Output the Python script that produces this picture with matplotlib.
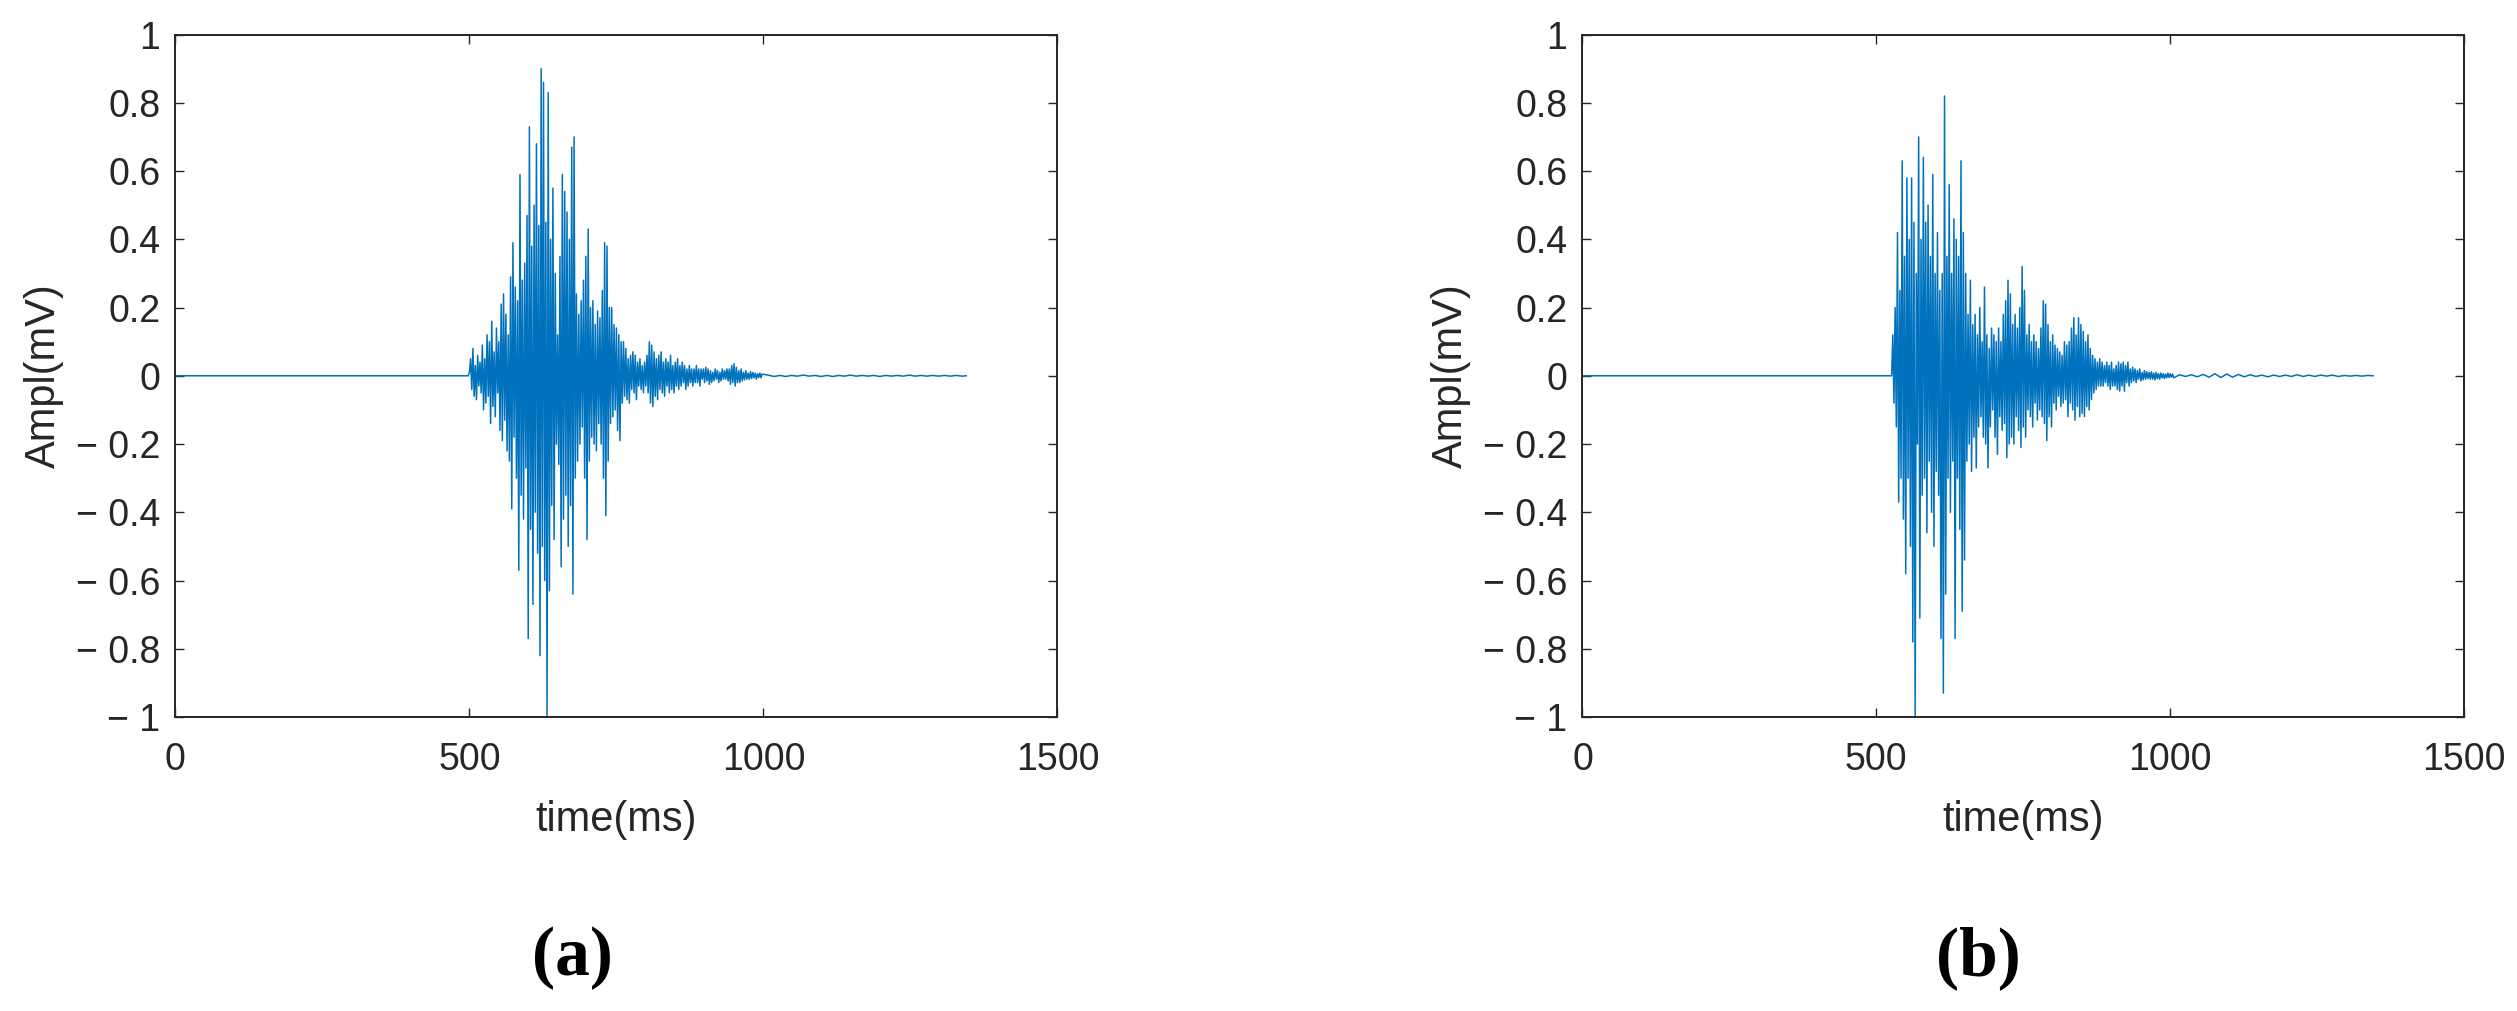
import numpy as np
import matplotlib
matplotlib.use("Agg")
import matplotlib.pyplot as plt

plt.rcParams['font.family'] = ['Liberation Sans', 'DejaVu Sans']

# sampling of the burst parts (ms)
step_ms = 2
tail_step_ms = 10
end_ms = 1345

# (a) burst starts at 500 ms, sampled every 2 ms
onset_a = 500
burst_a = [
    0.01, 0.05, -0.04, 0.08, -0.06, 0.03, -0.07, 0.06, -0.03, 0.04,
    -0.05, 0.09, -0.10, 0.05, -0.08, 0.12, -0.06, 0.10, -0.14, 0.16,
    -0.09, 0.07, -0.12, 0.14, -0.05, 0.10, -0.16, 0.21, -0.19, 0.24,
    -0.13, 0.18, -0.22, 0.12, -0.25, 0.29, -0.39, 0.39, -0.18, 0.26,
    -0.30, 0.22, -0.57, 0.59, -0.35, 0.28, -0.42, 0.33, -0.27, 0.47,
    -0.77, 0.73, -0.45, 0.38, -0.67, 0.50, -0.40, 0.68, -0.52, 0.44,
    -0.82, 0.90, -0.50, 0.86, -0.60, 0.45, -1.00, 0.83, -0.63, 0.40,
    -0.38, 0.55, -0.48, 0.30, -0.20, 0.12, -0.26, 0.35, -0.56, 0.59,
    -0.42, 0.54, -0.35, 0.48, -0.50, 0.40, -0.38, 0.67, -0.64, 0.70,
    -0.30, 0.24, -0.25, 0.18, -0.20, 0.22, -0.15, 0.28, -0.30, 0.35,
    -0.48, 0.43, -0.25, 0.20, -0.18, 0.22, -0.20, 0.15, -0.22, 0.19,
    -0.14, 0.17, -0.20, 0.25, -0.30, 0.39, -0.41, 0.38, -0.25, 0.20,
    -0.14, 0.20, -0.12, 0.15, -0.10, 0.14, -0.16, 0.12, -0.19, 0.10,
    -0.08, 0.10, -0.06, 0.08, -0.07, 0.05, -0.08, 0.06, -0.04, 0.07,
    -0.05, 0.06, -0.07, 0.04, -0.03, 0.05, -0.04, 0.03, -0.05, 0.04,
    -0.03, 0.06, -0.05, 0.10, -0.08, 0.09, -0.09, 0.07, -0.06, 0.05,
    -0.07, 0.06, -0.04, 0.07, -0.05, 0.04, -0.06, 0.05, -0.03, 0.04,
    -0.05, 0.06, -0.04, 0.03, -0.05, 0.04, -0.03, 0.05, -0.04, 0.03,
    -0.03, 0.04, -0.02, 0.03, -0.04, 0.02, -0.03, 0.03, -0.02, 0.02,
    -0.03, 0.02, -0.02, 0.03, -0.02, 0.02, -0.03, 0.02, -0.01, 0.02,
    -0.02, 0.025, -0.015, 0.02, -0.025, 0.015, -0.02, 0.01, -0.015, 0.02,
    -0.01, 0.015, -0.02, 0.01, -0.015, 0.02, -0.01, 0.015, -0.01, 0.02,
    -0.015, 0.02, -0.025, 0.03, -0.02, 0.035, -0.03, 0.025, -0.02, 0.015,
    -0.02, 0.02, -0.015, 0.01, -0.012, 0.015, -0.01, 0.008, -0.01, 0.012,
    -0.008, 0.01, -0.006, 0.008, -0.01, 0.006, -0.005, 0.008, -0.006, 0.005,
]
tail_a = [
    0.002, -0.002, 0.001, -0.002, 0.001, -0.001, 0.002, -0.001, 0.001, -0.002,
    0.001, -0.002, 0.001, -0.001, 0.002, -0.001, 0.001, -0.001, 0.001, -0.002,
    0.001, -0.001, 0.001, -0.001, 0.002, -0.001, 0.001, -0.001, 0.001, -0.001,
    0.001, -0.001, 0.001, -0.001,
]

# (b) burst starts at 528 ms, sampled every 2 ms
onset_b = 528
burst_b = [
    0.12, -0.08, 0.20, -0.15, 0.42, -0.37, 0.25, -0.30, 0.63, -0.42,
    0.35, -0.58, 0.58, -0.30, 0.40, -0.50, 0.58, -0.78, 0.45, -1.00,
    0.30, -0.20, 0.70, -0.71, 0.40, -0.35, 0.64, -0.30, 0.45, -0.46,
    0.50, -0.25, 0.35, -0.40, 0.59, -0.50, 0.30, -0.28, 0.42, -0.35,
    0.25, -0.77, 0.30, -0.93, 0.82, -0.64, 0.35, -0.30, 0.56, -0.40,
    0.30, -0.25, 0.46, -0.77, 0.40, -0.30, 0.35, -0.45, 0.63, -0.69,
    0.42, -0.54, 0.30, -0.25, 0.18, -0.20, 0.28, -0.28, 0.15, -0.18,
    0.18, -0.27, 0.12, -0.15, 0.20, -0.12, 0.10, -0.18, 0.26, -0.20,
    0.12, -0.27, 0.08, -0.15, 0.14, -0.10, 0.12, -0.18, 0.10, -0.23,
    0.14, -0.12, 0.10, -0.16, 0.18, -0.14, 0.22, -0.24, 0.28, -0.20,
    0.24, -0.18, 0.15, -0.20, 0.18, -0.12, 0.14, -0.16, 0.20, -0.21,
    0.32, -0.15, 0.25, -0.18, 0.12, -0.10, 0.15, -0.12, 0.10, -0.15,
    0.12, -0.08, 0.10, -0.13, 0.08, -0.10, 0.14, -0.12, 0.22, -0.14,
    0.21, -0.19, 0.15, -0.12, 0.10, -0.15, 0.12, -0.08, 0.09, -0.10,
    0.08, -0.06, 0.07, -0.09, 0.06, -0.08, 0.10, -0.07, 0.09, -0.12,
    0.10, -0.08, 0.14, -0.10, 0.17, -0.13, 0.12, -0.09, 0.17, -0.12,
    0.15, -0.11, 0.13, -0.12, 0.10, -0.09, 0.12, -0.10, 0.08, -0.07,
    0.06, -0.05, 0.05, -0.04, 0.04, -0.03, 0.05, -0.03, 0.04, -0.03,
    0.03, -0.02, 0.04, -0.03, 0.03, -0.04, 0.04, -0.03, 0.02, -0.03,
    0.03, -0.04, 0.04, -0.045, 0.035, -0.03, 0.04, -0.045, 0.03, -0.02,
    0.04, -0.03, 0.02, -0.02, 0.025, -0.015, 0.02, -0.02, 0.015, -0.01,
    0.02, -0.015, 0.01, -0.012, 0.015, -0.01, 0.012, -0.008, 0.01, -0.01,
    0.012, -0.01, 0.008, -0.012, 0.01, -0.008, 0.006, -0.01, 0.008, -0.006,
    0.006, -0.008, 0.005, -0.006, 0.008, -0.005, 0.006, -0.004, 0.005, -0.006,
]
tail_b = [
    0.003, -0.002, 0.003, -0.003, 0.004, -0.004, 0.006, -0.005, 0.005, -0.004,
    0.004, -0.003, 0.003, -0.002, 0.002, -0.003, 0.002, -0.002, 0.002, -0.002,
    0.003, -0.002, 0.002, -0.002, 0.002, -0.001, 0.002, -0.002, 0.001, -0.001,
    0.001, -0.001, 0.001,
]

y_ticks = [-1, -0.8, -0.6, -0.4, -0.2, 0, 0.2, 0.4, 0.6, 0.8, 1]
x_ticks = [0, 500, 1000, 1500]
panel_labels = ['(a)', '(b)']

line_color = '#0072BD'
text_color = '#262626'


def build_signal(onset, burst, tail):
    t_burst = onset + step_ms * np.arange(len(burst))
    t_tail = t_burst[-1] + tail_step_ms * np.arange(1, len(tail) + 1)
    t = np.concatenate([[0, onset - step_ms], t_burst, t_tail, [end_ms]])
    y = np.concatenate([[0, 0], burst, tail, [0]])
    return t, y


def fmt_tick(v):
    if v == 0:
        return '0'
    s = ('%g' % abs(v))
    return ('\u2212 ' + s) if v < 0 else s


fig = plt.figure(figsize=(25.17, 10.11), dpi=100)
ax_a = fig.add_axes([0.0697, 0.2908, 0.3504, 0.675])
ax_b = fig.add_axes([0.6287, 0.2908, 0.3503, 0.675])

signals = [build_signal(onset_a, burst_a, tail_a),
           build_signal(onset_b, burst_b, tail_b)]

for ax, (t, y) in zip([ax_a, ax_b], signals):
    ax.plot(t, y, color=line_color, linewidth=1.1)
    ax.set_xlim(0, 1500)
    ax.set_ylim(-1, 1)
    ax.set_xticks(x_ticks)
    ax.set_xticklabels([str(v) for v in x_ticks])
    ax.set_yticks(y_ticks)
    ax.set_yticklabels([fmt_tick(v) for v in y_ticks])
    ax.tick_params(direction='in', top=True, right=True, length=6.5, width=1,
                   labelsize=27, colors=text_color)
    ax.tick_params(axis='x', pad=18)
    ax.tick_params(axis='y', pad=11)
    for sp in ax.spines.values():
        sp.set_color(text_color)
        sp.set_linewidth(1.4)
    ax.set_xlabel('time(ms)', fontsize=30, color=text_color)
    ax.set_ylabel('Ampl(mV)', fontsize=30, color=text_color)
    ax.xaxis.set_label_coords(0.5, -0.122)
    ax.yaxis.set_label_coords(-0.127, 0.5)

serif = ['Liberation Serif', 'DejaVu Serif']
fig.text(572 / 2517, 1 - 958 / 1011, panel_labels[0], ha='center', va='center',
         fontsize=50, fontweight='bold', family=serif)
fig.text(1978 / 2517, 1 - 958 / 1011, panel_labels[1], ha='center', va='center',
         fontsize=50, fontweight='bold', family=serif)

fig.savefig('out.png', dpi=100, facecolor='white')
